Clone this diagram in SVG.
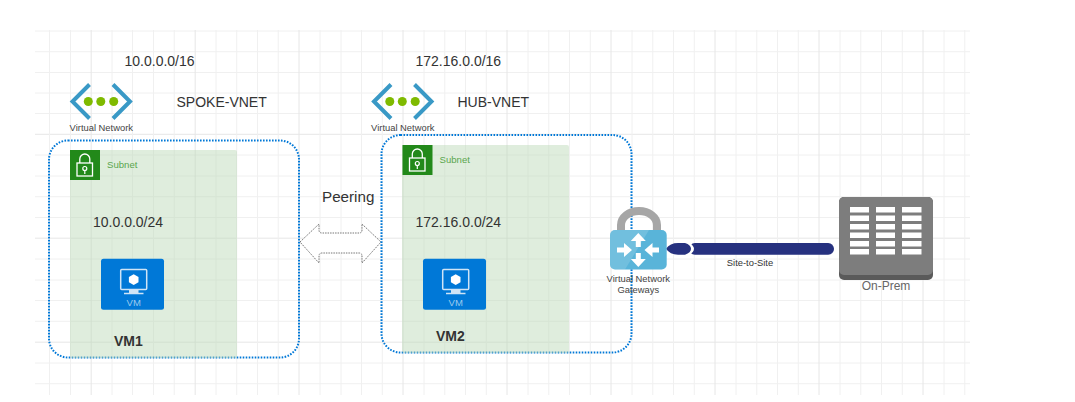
<svg xmlns="http://www.w3.org/2000/svg" width="1075" height="402" viewBox="0 0 1075 402">
<style>
text{font-family:"Liberation Sans",Arial,sans-serif;fill:#333}
.g{stroke:#f0f0f0;stroke-width:1;fill:none}
.G{stroke:#e6e6e6;stroke-width:1;fill:none}
.box{fill:none;stroke:#0078d7;stroke-width:2;stroke-dasharray:1.600 1.400}
.sub{fill:#b9d8b4;fill-opacity:.45}
.sublbl{font-size:9.600px;fill:#5aa64e}
.big{font-size:14px}
.vn{font-size:9.400px;text-anchor:middle;fill:#444}
.br{fill:none;stroke:#3999c6;stroke-width:4}
.dot{fill:#7fba00}
</style>
<defs>
<g id="vnet">
<path class="br" d="M20 1.500 L3 18.500 L20 35.500 M43.500 1.500 L60.500 18.500 L43.500 35.500"/>
<circle class="dot" cx="18.800" cy="18.500" r="4.500"/><circle class="dot" cx="31.300" cy="18.500" r="4.500"/><circle class="dot" cx="44.200" cy="18.500" r="4.500"/>
</g>
<g id="lock">
<rect width="30" height="30" fill="#22891a"/>
<rect x="7" y="13" width="15.500" height="13" fill="none" stroke="#fff" stroke-width="1.300"/>
<path d="M9.800 13 V9 a5 5 0 0 1 10 0 V13" fill="none" stroke="#fff" stroke-width="1.300"/>
<circle cx="14.800" cy="18.500" r="2" fill="none" stroke="#fff" stroke-width="1.200"/><path d="M14.800 20.500V24" stroke="#fff" stroke-width="1.200"/>
</g>
<g id="vm">
<rect width="63" height="51" rx="2.500" fill="#0078d7"/>
<rect x="19.700" y="10.700" width="26" height="20" rx="1" fill="none" stroke="#cfe4f6" stroke-width="1.500"/>
<path d="M32.700 15.500 l4.800 2.700 v5.400 l-4.800 2.700 l-4.800 -2.700 v-5.400z" fill="#fff"/>
<path d="M28 31 h9.500 v3 h5 v1.500 h-19.500 v-1.500 h5z" fill="#cfe4f6"/>
<text x="32.700" y="47" font-size="9.500" text-anchor="middle" style="fill:#9ccbee">VM</text>
</g>
</defs>
<g id="grid">
<path class="g" d="M35 31H970M35 51.700H970M35 72.500H970M35 93H970M35 113.500H970M35 155H970M35 176H970M35 196.700H970M35 217.500H970M35 259H970M35 280H970M35 300.500H970M35 321.300H970M35 363H970M35 383.700H970"/>
<path class="G" d="M35 134.300H970M35 238.200H970M35 342.200H970"/>
<path class="g" d="M49.500 30V395M70.500 30V395M112 30V395M132.500 30V395M153.500 30V395M174.200 30V395M216 30V395M236.700 30V395M257.500 30V395M278.200 30V395M320 30V395M341 30V395M361.500 30V395M382.300 30V395M424 30V395M444.800 30V395M465.500 30V395M486.300 30V395M528 30V395M548.800 30V395M569.500 30V395M590.300 30V395M632 30V395M652.800 30V395M673.500 30V395M694.300 30V395M736 30V395M756.800 30V395M777.500 30V395M798.300 30V395M840 30V395M860.800 30V395M881.500 30V395M902.300 30V395M944 30V395M964.800 30V395"/>
<path class="G" d="M91.200 30V395M195.200 30V395M299 30V395M403 30V395M507 30V395M611 30V395M715 30V395M819 30V395M923 30V395"/>
</g>
<g id="connectors">
<path d="M300 242 L319 224 V230 Q319 233 322 233 H359 Q362 233 362 230 V224 L381 242 L362 263 V256 Q362 253 359 253 H322 Q319 253 319 256 V263 Z" fill="#fff" stroke="#777" stroke-width="1" stroke-dasharray="1.500 1"/>
<rect x="689" y="243" width="145" height="11.700" rx="5.800" fill="#26317f"/>
<path d="M689 242.500 Q699 248.800 689 255.200 Z" fill="#fff"/>
<path d="M666 248.800 Q670 243 678 243 H685 Q691 245 691 248.800 Q691 252.600 685 254.700 H678 Q670 254.700 666 248.800Z" fill="#26317f"/>
</g>
<g id="spoke-vnet">
<text class="big" x="124.500" y="66">10.0.0.0/16</text>
<use href="#vnet" x="69.500" y="83"/>
<text class="vn" x="101.300" y="131">Virtual Network</text>
<text class="big" x="176.500" y="107">SPOKE-VNET</text>
<rect class="box" x="49" y="140.500" width="250" height="217" rx="19"/>
</g>
<g id="spoke-subnet">
<rect class="sub" x="70" y="150" width="167" height="208" rx="2"/>
<use href="#lock" x="70" y="150"/>
<text class="sublbl" x="107" y="168">Subnet</text>
<text class="big" x="93" y="227">10.0.0.0/24</text>
</g>
<g id="vm1">
<use href="#vm" x="101" y="258.700"/>
<text x="114" y="346" font-size="14" font-weight="bold">VM1</text>
</g>
<g id="peering"><text x="322" y="202" font-size="15.200">Peering</text></g>
<g id="hub-vnet">
<text class="big" x="415.500" y="66">172.16.0.0/16</text>
<use href="#vnet" x="371" y="83"/>
<text class="vn" x="402.800" y="131">Virtual Network</text>
<text class="big" x="457.500" y="107">HUB-VNET</text>
<rect class="box" x="381.500" y="135" width="250" height="217.500" rx="19"/>
</g>
<g id="hub-subnet">
<rect class="sub" x="402" y="145" width="167" height="208" rx="2"/>
<use href="#lock" x="402.500" y="145"/>
<text class="sublbl" x="439.500" y="163">Subnet</text>
<text class="big" x="415.500" y="227">172.16.0.0/24</text>
</g>
<g id="vm2">
<use href="#vm" x="423" y="258.700"/>
<text x="436" y="341" font-size="14" font-weight="bold">VM2</text>
</g>
<g id="gateway">
<path d="M621 232 V225 a18 14 0 0 1 36 0 V232" fill="none" stroke="#a6a6a6" stroke-width="8"/>
<rect x="610" y="230" width="56.700" height="39.500" rx="5" fill="#59b4d9"/>
<path d="M610 235 a5 5 0 0 1 5 -5 h34 L625 269.500 h-10 a5 5 0 0 1 -5 -5z" fill="#fff" fill-opacity=".15"/>
<path fill="#fff" d="M638.300 233 l7.500 8 h-5 v6 h-5 v-6 h-5z M638.300 267 l7.500 -8 h-5 v-6 h-5 v6 h-5z M632 250 l-8 -7 v4.500 h-7 v5 h7 v4.500z M644.500 250 l8 -7 v4.500 h6.500 v5 h-6.500 v4.500z"/>
<text class="vn" x="638.300" y="282">Virtual Network</text>
<text class="vn" x="638.300" y="293">Gateways</text>
</g>
<g id="site-to-site"><text x="750" y="266" font-size="9.400" text-anchor="middle">Site-to-Site</text></g>
<g id="on-prem">
<rect x="839" y="197" width="94" height="83" rx="5" fill="#5a5a5a"/>
<rect x="839" y="197" width="94" height="78" rx="5" fill="#7d7d7d"/>
<path fill="#fff" d="M850 207h19v5.500h-19zM876 207h19v5.500h-19zM902 207h19.500v5.500h-19.500zM850 215.500h19v5.500h-19zM876 215.500h19v5.500h-19zM902 215.500h19.500v5.500h-19.500zM850 224h19v5.500h-19zM876 224h19v5.500h-19zM902 224h19.500v5.500h-19.500zM850 232.500h19v5.500h-19zM876 232.500h19v5.500h-19zM902 232.500h19.500v5.500h-19.500zM850 241h19v5.500h-19zM876 241h19v5.500h-19zM902 241h19.500v5.500h-19.500zM850 249h19v5.500h-19zM876 249h19v5.500h-19zM902 249h19.500v5.500h-19.500z"/>
<text x="886" y="290" font-size="12" text-anchor="middle" style="fill:#666">On-Prem</text>
</g>
</svg>
